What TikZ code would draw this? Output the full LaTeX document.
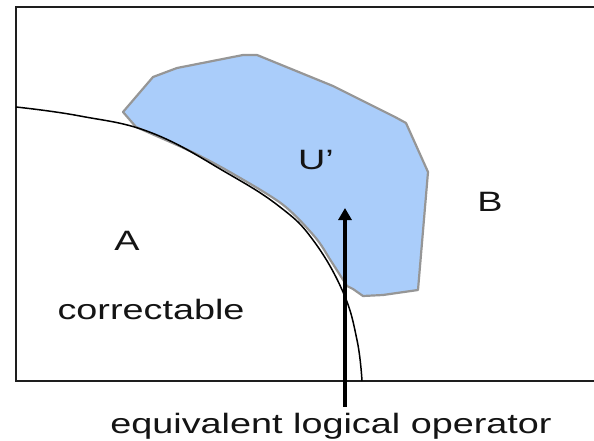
\documentclass[tikz,border=0pt]{standalone}
\usepackage{fontspec}
\setmainfont{Liberation Sans}
\usepackage{tikz}
\usetikzlibrary{arrows.meta}
\definecolor{regionfill}{RGB}{170, 205, 250}
\definecolor{regionedge}{RGB}{150, 150, 150}
\definecolor{framegray}{RGB}{30, 30, 30}
\definecolor{labeltext}{RGB}{20, 20, 20}
\newcommand{\widetext}[1]{\scalebox{1.35}[1]{#1}}

\begin{document}
\begin{tikzpicture}[x=1pt, y=-1pt,
    regionlabel/.style={font=\fontsize{28}{31}\selectfont, text=labeltext, inner sep=0pt}]
      \useasboundingbox (0,0) rectangle (594,441);
      % Frame, open on the right
      \draw[framegray, line width=2.2pt] (594,7) -- (16,7) -- (16,381) -- (594,381);
      % Region U'
      \filldraw[fill=regionfill, draw=regionedge, line width=2.2pt, line join=round]
        (123,112) -- (153,77) -- (177,68) -- (243,55) -- (257,55) -- (333,86)
        -- (395,117) -- (406,123) -- (428,172) -- (418,290) -- (383,295)
        -- (363,296) -- (353,289)
        -- plot[smooth] coordinates {(347,286) (331,261) (315,237) (282,204)
           (228,171) (190,151) (152,134) (136,127)}
        -- cycle;
      % Boundary of the correctable region
      \draw[black, line width=1.5pt] plot[smooth, tension=0.7] coordinates {
        (16,107) (80,116) (152,133) (227,173) (280,207) (313,240)
        (343,292) (357,340) (362,381)};
      % Region labels
      \foreach \x/\y/\name/\txt in {
        127/241/regiona/A,
        490/202/regionb/B,
        316/160/regionu/{U'},
        151/309/correct/correctable%
      }{
        \node[regionlabel] (\name) at (\x,\y) {\widetext{\txt}};
      }
      \node[regionlabel, anchor=base] (oplabel) at (331,433) {\widetext{equivalent logical operator}};
      % Arrow
      \coordinate (optip) at (345,208);
      \draw[black, line width=3.2pt, -{Triangle[width=13pt, length=12pt]}]
        (oplabel.north -| optip) ++(0,-6) -- (optip);
    \end{tikzpicture}
\end{document}
